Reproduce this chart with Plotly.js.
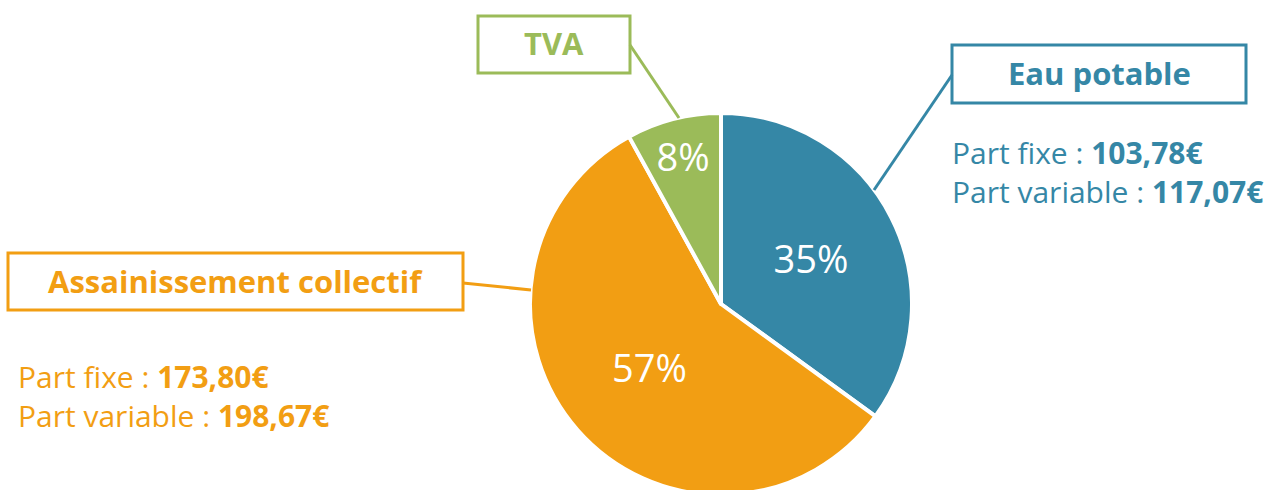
<!DOCTYPE html>
<html>
<head>
<meta charset="utf-8">
<script src="https://cdn.plot.ly/plotly-3.0.1.min.js"></script>
<style>
html,body{margin:0;padding:0;overflow:hidden;background:#fff;}
#chart{width:1275px;height:500px;}
</style>
</head>
<body>
<div id="chart"></div>
<script>
// Data
const categories = ["Eau potable", "Assainissement collectif", "TVA"];
const shares = [35, 57, 8];
const colors = ["#3587a6", "#f29e13", "#9bbb59"];
const partFixe = ["103,78€", "173,80€", null];
const partVariable = ["117,07€", "198,67€", null];

const W = 1275, H = 500;
const px = x => x / W;
const py = y => 1 - y / H;
const FONT = "Open Sans";

const trace = {
  type: "pie",
  labels: categories,
  values: shares,
  sort: false,
  direction: "clockwise",
  rotation: 0,
  marker: {colors: colors, line: {color: "#ffffff", width: 4}},
  texttemplate: "%{value}%",
  textposition: "inside",
  insidetextorientation: "horizontal",
  textfont: {family: FONT, size: 38, color: "#ffffff"},
  hoverinfo: "label+percent",
  showlegend: false,
  domain: {x: [px(530), px(912)], y: [py(495), py(113)]}
};

const boxes = [
  {i: 0, x0: 952, x1: 1246, y0: 45, y1: 103},
  {i: 1, x0: 8, x1: 463, y0: 253, y1: 310},
  {i: 2, x0: 478, x1: 630, y0: 16, y1: 73}
];
const connectors = [
  {i: 0, x0: 952, y0: 75, x1: 874, y1: 190},
  {i: 1, x0: 463, y0: 283, x1: 531, y1: 290},
  {i: 2, x0: 630, y0: 45, x1: 679, y1: 118}
];

const shapes = [];
boxes.forEach(b => shapes.push({
  type: "rect", xref: "paper", yref: "paper",
  x0: px(b.x0), x1: px(b.x1), y0: py(b.y1), y1: py(b.y0),
  line: {color: colors[b.i], width: 3}, fillcolor: "rgba(0,0,0,0)"
}));
connectors.forEach(c => shapes.push({
  type: "line", xref: "paper", yref: "paper",
  x0: px(c.x0), y0: py(c.y0), x1: px(c.x1), y1: py(c.y1),
  line: {color: colors[c.i], width: 3}
}));

const annotations = [];
boxes.forEach(b => annotations.push({
  xref: "paper", yref: "paper",
  x: px((b.x0 + b.x1) / 2), y: py((b.y0 + b.y1) / 2 - 1),
  xanchor: "center", yanchor: "middle", showarrow: false,
  text: "<b>" + categories[b.i] + "</b>",
  font: {family: FONT, size: 31, color: colors[b.i]}
}));
const detailPos = [
  {i: 0, x: 950, y: 172},
  {i: 1, x: 16, y: 396}
];
detailPos.forEach(d => {
  annotations.push({
    xref: "paper", yref: "paper", x: px(d.x), y: py(d.y),
    xanchor: "left", yanchor: "middle", showarrow: false, align: "left",
    text: "Part fixe : <b>" + partFixe[d.i] + "</b><br>Part variable : <b>" + partVariable[d.i] + "</b>",
    font: {family: FONT, size: 30, color: colors[d.i]}
  });
});

const layout = {
  width: W, height: H,
  margin: {l: 0, r: 0, t: 0, b: 0},
  paper_bgcolor: "#ffffff",
  plot_bgcolor: "#ffffff",
  shapes: shapes,
  annotations: annotations,
  showlegend: false
};

Plotly.newPlot("chart", [trace], layout, {displayModeBar: false, staticPlot: true});
</script>
</body>
</html>
